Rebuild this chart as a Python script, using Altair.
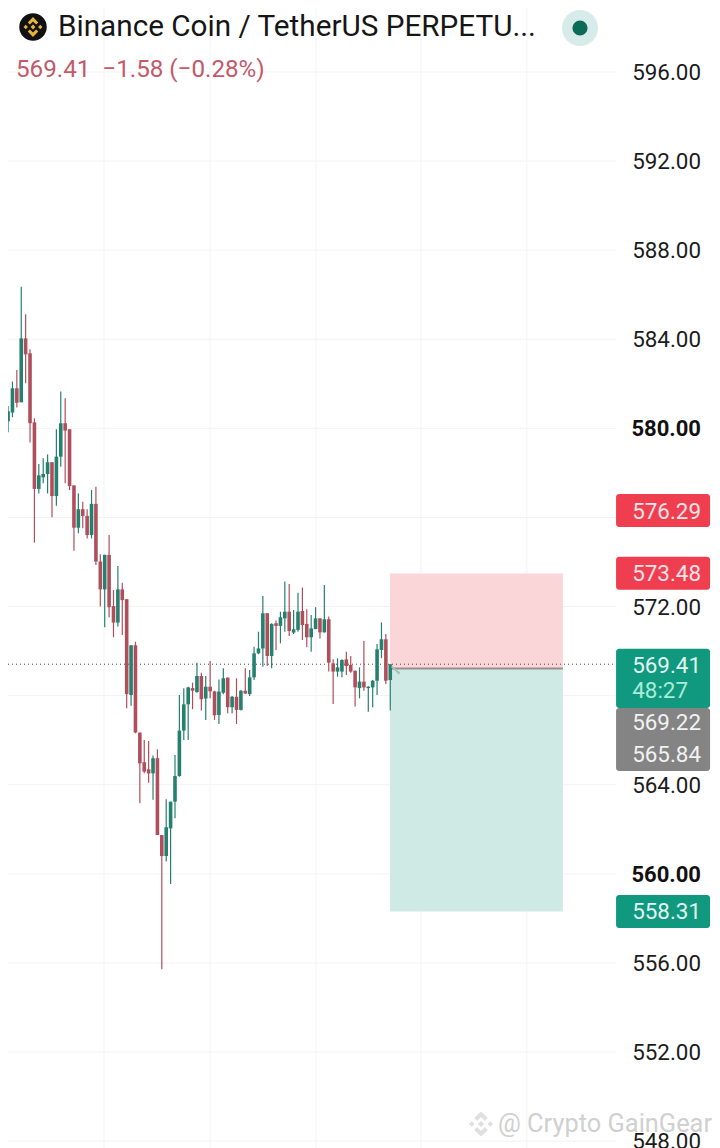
import altair as alt
import pandas as pd

highs = [580.85,581.00,582.10,582.62,586.36,585.12,583.55,580.45,578.40,578.66,578.83,578.48,579.96,581.65,581.35,579.96,577.44,577.08,576.71,576.37,577.23,577.38,574.35,574.32,575.21,572.74,573.82,573.07,572.33,570.27,570.42,566.34,566.01,565.96,565.31,565.59,561.74,563.35,563.24,565.34,568.03,568.33,568.40,568.58,569.48,569.03,568.88,569.56,568.22,568.73,569.23,568.81,567.98,568.78,568.25,569.23,569.15,570.20,570.87,572.47,571.70,571.25,571.37,571.77,573.12,573.01,571.85,572.62,572.86,571.88,571.62,571.97,571.47,572.97,571.55,569.63,569.68,569.63,569.97,569.78,569.12,569.27,570.45,568.43,568.70,570.32,571.29,570.77,569.41]
lows = [578.21,579.82,580.50,580.94,581.17,582.02,579.36,574.87,577.08,577.53,577.08,576.01,576.52,578.28,577.53,577.23,574.51,575.29,575.51,575.06,575.06,573.87,572.00,571.07,571.52,570.62,571.10,570.72,567.43,567.55,566.31,563.17,564.51,564.09,563.32,561.74,555.71,560.55,559.54,562.49,564.36,566.01,566.01,567.39,568.13,567.33,566.91,567.88,566.91,566.73,568.06,567.21,567.21,566.73,567.33,568.07,567.98,568.70,569.86,569.30,569.33,569.23,570.05,570.35,570.87,570.68,570.77,570.87,570.50,570.17,569.97,570.98,570.57,570.84,569.08,567.63,568.85,568.82,568.93,569.03,567.51,567.88,568.22,567.28,567.48,568.03,569.68,568.52,567.33]
opens = [579.90,580.32,580.71,581.80,581.17,584.04,583.37,580.27,577.28,577.80,577.95,578.48,576.96,578.73,580.23,579.96,577.44,575.54,576.37,576.07,575.21,576.61,574.02,572.77,574.32,572.02,571.28,572.77,572.33,568.03,570.26,566.34,565.01,564.69,564.51,565.19,561.74,560.80,562.04,563.24,564.39,566.43,567.61,568.34,568.16,568.88,567.87,568.40,568.19,567.13,568.13,568.81,567.48,567.95,567.36,568.22,568.07,568.82,569.90,570.12,571.70,569.78,571.25,571.13,571.47,571.77,570.83,570.95,571.80,571.22,570.62,570.99,571.47,570.84,571.43,569.45,569.08,569.08,569.63,569.38,569.12,568.34,568.63,568.34,568.37,568.67,570.05,570.53,568.70]
closes = [580.35,580.77,581.80,581.15,584.04,583.32,580.23,577.28,577.89,577.95,578.48,576.96,578.73,580.23,579.90,577.41,575.54,576.37,576.07,575.21,576.61,574.02,572.77,574.32,571.97,571.28,572.77,572.29,568.07,570.26,566.34,564.96,564.59,564.51,565.19,561.74,560.80,562.09,563.24,564.39,566.43,567.61,568.37,568.22,568.88,567.84,568.40,568.19,567.12,568.18,568.78,567.48,567.95,567.36,568.22,568.10,568.82,569.90,570.12,571.70,569.78,571.22,571.13,571.52,571.77,570.90,570.98,571.77,571.17,570.62,571.02,571.47,570.84,571.43,569.48,569.08,569.27,569.60,569.33,569.08,568.37,568.63,568.37,568.40,568.67,570.08,570.53,568.67,569.41]

grid_values = [596, 592, 588, 584, 580, 576, 572, 568, 564, 560, 556, 552, 548]
tick_values = [596, 592, 588, 584, 580, 572, 564, 560, 556, 552, 548]
bold_ticks = [580, 560]
time_grid = [22.84, 46.97, 71.1, 95.0, 119.1]

position_entry = 569.22
position_stop = 573.48
position_target = 558.31
position_start = 87.94
position_end = 127.3
last_price = 569.41

flag_tops = [577.05, 574.23, 570.10, 567.45, 559.05]
flag_bottoms = [575.57, 572.75, 567.45, 564.62, 557.57]
flag_colors = ["#ef3e4f", "#ef3e4f", "#10997f", "#848484", "#10997f"]

GREEN = "#26806f"
RED = "#b04f5c"
X_DOMAIN = [0.986, 161.24]
Y_DOMAIN = [547.69, 598.873]
FONT = "Roboto"
BNB = ("M0,-0.22L0.22,0L0,0.22L-0.22,0Z"
       "M0,-0.9L0.48,-0.42L0.28,-0.22L0,-0.5L-0.28,-0.22L-0.48,-0.42Z"
       "M0,0.9L0.48,0.42L0.28,0.22L0,0.5L-0.28,0.22L-0.48,0.42Z"
       "M-0.66,-0.2L-0.46,0L-0.66,0.2L-0.86,0Z"
       "M0.66,-0.2L0.86,0L0.66,0.2L0.46,0Z")

xs = alt.Scale(domain=X_DOMAIN, nice=False, zero=False, padding=0)
ys = alt.Scale(domain=Y_DOMAIN, nice=False, zero=False, padding=0)

def X(f):
    return alt.X(f, type="quantitative", scale=xs, axis=None)

def Y(f):
    return alt.Y(f, type="quantitative", scale=ys, axis=None)

candles = pd.DataFrame({"i": range(len(highs)), "h": highs, "l": lows, "o": opens, "c": closes})
candles["dir"] = ["up" if c >= o else "down" for o, c in zip(opens, closes)]
color = alt.Color("dir:N", scale=alt.Scale(domain=["up", "down"], range=[GREEN, RED]), legend=None)

n_grid = len(grid_values)
hgrid = alt.Chart(pd.DataFrame({"y": grid_values, "x": [X_DOMAIN[0]] * n_grid, "x2": [139.4] * n_grid})).mark_rule(
    stroke="#f3f3f3", strokeWidth=1
).encode(x=X("x"), x2="x2:Q", y=Y("y"))
vgrid = alt.Chart(pd.DataFrame({"x": time_grid})).mark_rule(stroke="#f3f3f3", strokeWidth=1).encode(x=X("x"))

tick_table = pd.DataFrame({"y": tick_values, "t": ["%.2f" % v for v in tick_values]})
tick_table["b"] = [v in bold_ticks for v in tick_values]
tick_normal = alt.Chart(tick_table[~tick_table["b"]]).mark_text(
    font=FONT, fontSize=22.4, color="#1c1c1c", align="right", baseline="middle", dy=1
).encode(text="t:N", x=alt.value(693), y=Y("y"))
tick_bold = alt.Chart(tick_table[tick_table["b"]]).mark_text(
    font=FONT, fontSize=22, color="#111111", align="right", baseline="middle", fontWeight="bold", dy=1
).encode(text="t:N", x=alt.value(693), y=Y("y"))

zones = pd.DataFrame({
    "x": [position_start] * 2, "x2": [position_end] * 2,
    "y": [position_stop, position_entry], "y2": [position_entry, position_target],
    "c": ["#fbd6d9", "#cfeae5"],
})
zone_layer = alt.Chart(zones).mark_rect().encode(
    x=X("x"), x2="x2:Q", y=Y("y"), y2="y2:Q", fill=alt.Fill("c:N", scale=None)
)
entry_line = alt.Chart(pd.DataFrame({"y": [position_entry], "x": [position_start], "x2": [position_end]})).mark_rule(
    stroke="#9a8f8f", strokeWidth=2
).encode(x=X("x"), x2="x2:Q", y=Y("y"))
price_line = alt.Chart(pd.DataFrame({"y": [last_price], "x": [X_DOMAIN[0]], "x2": [139.4]})).mark_rule(
    stroke="#4a4a4a", strokeWidth=1, strokeDash=[1, 3]
).encode(x=X("x"), x2="x2:Q", y=Y("y"))

wicks = alt.Chart(candles).mark_rule(strokeWidth=1.2, clip=True).encode(x=X("i"), y=Y("l"), y2="h:Q", color=color)
bodies = alt.Chart(candles).mark_bar(size=3.6, clip=True).encode(x=X("i"), y=Y("o"), y2="c:Q", color=color)

flags = pd.DataFrame({"t": flag_tops, "b": flag_bottoms, "c": flag_colors, "x": [139.4] * 5, "x2": [160.8] * 5})
flag_layer = alt.Chart(flags).mark_rect(cornerRadius=3).encode(
    x=X("x"), x2="x2:Q", y=Y("t"), y2="b:Q", fill=alt.Fill("c:N", scale=None)
)

def text(s, x, y, size, color, align="left", weight="normal"):
    return alt.Chart(pd.DataFrame({"t": [s]})).mark_text(
        font=FONT, fontSize=size, color=color, align=align, baseline="middle", fontWeight=weight
    ).encode(text="t:N", x=alt.value(x - 8), y=alt.value(y - 8))

def dot(x, y, size, color, shape="circle"):
    return alt.Chart(pd.DataFrame({"t": [0]})).mark_point(
        filled=True, opacity=1, shape=shape, size=size, color=color, strokeWidth=0
    ).encode(x=alt.value(x - 8), y=alt.value(y - 8))

flag_texts = [
    text("576.29", 701, 512, 22.4, "#fde3e6", "right"),
    text("573.48", 701, 574, 22.4, "#fde3e6", "right"),
    text("569.41", 701, 666, 22.4, "#e2f6f1", "right"),
    text("48:27", 688, 691, 22.4, "#a8ecd9", "right"),
    text("569.22", 701, 723, 22.4, "#f2f2f2", "right"),
    text("565.84", 701, 755, 22.4, "#f2f2f2", "right"),
    text("558.31", 701, 912, 22.4, "#e2f6f1", "right"),
]

header = [
    dot(33, 27, 755, "#111111"),
    dot(33, 27, 484, "#e8b339", BNB),
    text("Binance Coin / TetherUS PERPETU...", 58, 27, 29.7, "#161616"),
    dot(580, 28, 1300, "#d7ecea"),
    dot(580, 28, 230, "#0b6b57"),
    text("569.41\u00a0\u00a0\u22121.58 (\u22120.28%)", 16, 70, 24.2, "#c4596a"),
]
arrow = dot(396, 670, 80, "#a5c2bb", "M-1,-1L1,0.6L0.6,1L-1,-0.6Z")
watermark = [
    dot(481, 1124, 784, "#dfdfdf", BNB),
    text("@ Crypto GainGear", 498, 1124, 25.4, "#d0d0d0"),
]

chart = alt.layer(
    hgrid, vgrid, tick_normal, tick_bold, zone_layer, entry_line, price_line, wicks, bodies, arrow, flag_layer,
    *flag_texts, *header, *watermark
).properties(
    width=704, height=1140, padding=0, background="white",
    autosize=alt.AutoSizeParams(type="none", contains="padding"),
).configure_view(stroke=None)

chart.save("out.html", embed_options={"renderer": "svg", "actions": False})
